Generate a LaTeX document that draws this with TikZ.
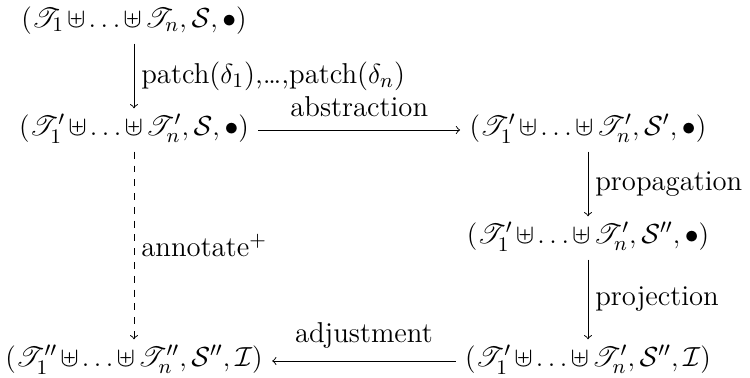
\documentclass[tikz,border=0pt]{standalone}
\usepackage{amsmath,amssymb}
\usepackage{mathrsfs}
\usetikzlibrary{positioning}
\newcommand{\Tr}{\mathscr{T}}
\newcommand{\Sc}{\mathcal{S}}
\medmuskip=2mu plus 1mu minus 1mu

\begin{document}
\begin{tikzpicture}[
  x=0.435pt, y=-0.435pt,
  font=\fontsize{12.5}{15}\selectfont,
  st/.style={inner xsep=4pt, inner ysep=3pt, text height=2ex, text depth=0.9ex},
  arr/.style={->},
  lbl/.style={inner sep=3pt}
]
\useasboundingbox (0,0) rectangle (750,378);

% --- left column ---
\node[st] (init) at (134,22) {$(\Tr_1\uplus\ldots\uplus\Tr_n,\Sc,\bullet)$};
\node[st] (patched) at (134,130) {$(\Tr'_1\uplus\ldots\uplus\Tr'_n,\Sc,\bullet)$};
\node[st] (annot) at (134,361) {$(\Tr''_1\uplus\ldots\uplus\Tr''_n,\Sc'',\mathcal{I})$};

% --- right column ---
\node[st] (abs) at (588,130) {$(\Tr'_1\uplus\ldots\uplus\Tr'_n,\Sc',\bullet)$};
\node[st] (prop) at (588,238) {$(\Tr'_1\uplus\ldots\uplus\Tr'_n,\Sc'',\bullet)$};
\node[st] (proj) at (588,361) {$(\Tr'_1\uplus\ldots\uplus\Tr'_n,\Sc'',\mathcal{I})$};

% --- arrows ---
\draw[arr] (init) -- node[lbl, right] {patch($\delta_1$),\ldots,patch($\delta_n$)} (patched);
\draw[arr] (patched) -- node[lbl, above=2.5pt] {abstraction} (abs);
\draw[arr] (abs) -- node[lbl, right] {propagation} (prop);
\draw[arr] (prop) -- node[lbl, right] {projection} (proj);
\draw[arr] (proj) -- node[lbl, above=2.5pt] {adjustment} (annot);
\draw[arr, dashed] (patched) -- node[lbl, right] {annotate$^+$} (annot);
\end{tikzpicture}
\end{document}
